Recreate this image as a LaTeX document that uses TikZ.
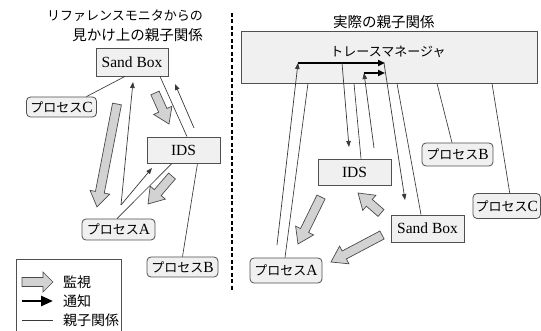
\documentclass[tikz,border=0pt]{standalone}
\usepackage{fontspec}
\setmainfont{Liberation Serif}
\newfontfamily\jpfont{Noto Sans CJK JP}
\usetikzlibrary{arrows.meta}
\definecolor{boxfill}{HTML}{F0F0F0}
\definecolor{boxline}{HTML}{505050}
\definecolor{arrfill}{HTML}{D2D2D2}
\definecolor{arrline}{HTML}{4A4A4A}
\definecolor{relcol}{HTML}{383838}
\newcommand\jpk[2][13]{{\jpfont\fontsize{#1}{#1}\selectfont #2}}
\newcommand\monarrow[3][15]{%
  \pgfpointdiff{\pgfpointanchor{#2}{center}}{\pgfpointanchor{#3}{center}}%
  \pgfgetlastxy\mdx\mdy
  \pgfmathsetmacro\mang{atan2(\mdy,\mdx)}%
  \pgfmathsetmacro\mlen{veclen(\mdx,\mdy)}%
  \pgfmathsetmacro\mneck{\mlen-#1}%
  \draw[monitor,shift={(#2)},rotate=\mang] (0pt,4.5pt) -- (\mneck pt,4.5pt) -- (\mneck pt,10pt) -- (\mlen pt,0pt) -- (\mneck pt,-10pt) -- (\mneck pt,-4.5pt) -- (0pt,-4.5pt) -- cycle;}
\tikzset{
 box/.style={draw=boxline, fill=boxfill, line width=0.8pt, inner sep=0pt, font=\fontsize{15.5}{17}\selectfont},
 proc/.style={box, rounded corners=4pt},
 rel/.style={draw=relcol, line width=0.65pt},
 note/.style={draw=relcol, line width=0.7pt, -{Triangle[length=6pt,width=4.5pt]}},
 notify/.style={draw=black, line width=1.8pt, -{Triangle[length=7pt,width=6pt]}},
 monitor/.style={draw=arrline, fill=arrfill, line width=0.7pt, line join=miter},
 txt/.style={inner sep=0pt},
 sepline/.style={draw=black, line width=1.6pt, dash pattern=on 4pt off 2.5pt},
 legendbox/.style={draw=boxline, line width=0.8pt},
}
\begin{document}
\begin{tikzpicture}[x=1pt,y=-1pt]
\useasboundingbox (0,0) rectangle (541,331);
\clip (0,0) rectangle (541,331);
\fill[white] (0,0) rectangle (541,331);

% ---------- left side ----------
\node[txt, anchor=east] (t1) at (203,16) {\jpk{リファレンスモニタからの}};
\node[txt, anchor=east] (t2) at (203,35) {\jpk[14.5]{見かけ上の親子関係}};

\node[box, minimum width=72pt, minimum height=28pt] (sbL) at (132,62) {Sand Box};
\node[proc, minimum width=70pt, minimum height=20pt] (pcL) at (61.5,107) {\jpk{プロセス}C};
\node[box, minimum width=73pt, minimum height=26pt] (idsL) at (183.5,150) {IDS};
\node[proc, minimum width=73pt, minimum height=21pt] (paL) at (118.5,229.5) {\jpk{プロセス}A};
\node[proc, minimum width=71pt, minimum height=20pt] (pbL) at (182.5,267) {\jpk{プロセス}B};

\draw[rel] ([xshift=-7pt]sbL.south) -- ([xshift=25pt]pcL.north);
\draw[rel] ([xshift=28pt]sbL.south) -- ([xshift=3.5pt]idsL.north);
\draw[rel] ([xshift=-11.5pt]idsL.south) -- ([xshift=-1.5pt]paL.north);
\draw[rel] ([xshift=14pt]idsL.south) -- (pbL.north);

\coordinate (vL) at (121,205);
\coordinate (nL1) at (133,82);
\coordinate (nL2) at (152,168);
\coordinate (nL3s) at (194,128);
\coordinate (nL3e) at (175,84);
\draw[note] (vL) -- (nL1);
\draw[note] (vL) -- (nL2);
\draw[note] (nL3s) -- (nL3e);

\coordinate (mL1a) at (117,104); \coordinate (mL1b) at (97,207);
\coordinate (mL2a) at (155,93);  \coordinate (mL2b) at (169,124);
\coordinate (mL3a) at (172,176); \coordinate (mL3b) at (148,204);
\monarrow{mL1a}{mL1b}
\monarrow{mL2a}{mL2b}
\monarrow{mL3a}{mL3b}

% ---------- separator ----------
\coordinate (d1) at (232,13); \coordinate (d2) at (232,290);
\draw[sepline] (d1) -- (d2);

% ---------- legend ----------
\draw[legendbox] (16,259) rectangle (121,345);
\coordinate (lg1a) at (22,282); \coordinate (lg1b) at (53,282);
\monarrow[10]{lg1a}{lg1b}
\coordinate (lg2a) at (22,301); \coordinate (lg2b) at (53,301);
\draw[notify, line width=2.6pt, -{Triangle[length=12pt,width=10pt]}] (lg2a) -- (lg2b);
\coordinate (lg3a) at (22,320); \coordinate (lg3b) at (53,320);
\draw[rel] (lg3a) -- (lg3b);
\node[txt, anchor=west] (lt1) at (63,282) {\jpk[14]{監視}};
\node[txt, anchor=west] (lt2) at (63,301) {\jpk[14]{通知}};
\node[txt, anchor=west] (lt3) at (63,320) {\jpk[14]{親子関係}};

% ---------- right side ----------
\node[txt, anchor=west] (t3) at (333,22) {\jpk[14.5]{実際の親子関係}};
\node[box, minimum width=296pt, minimum height=52pt] (tm) at (389,57) {};
\node[txt] (tmlab) at (388,52) {\jpk{トレースマネージャ}};
\node[box, minimum width=73pt, minimum height=26pt] (idsR) at (354.5,172) {IDS};
\node[proc, minimum width=71pt, minimum height=23pt] (pbR) at (457.5,154.5) {\jpk{プロセス}B};
\node[proc, minimum width=67.5pt, minimum height=25pt] (pcR) at (506.75,206) {\jpk{プロセス}C};
\node[box, minimum width=73pt, minimum height=27pt] (sbR) at (427.5,228.5) {Sand Box};
\node[proc, minimum width=72pt, minimum height=25pt] (paR) at (286,270.5) {\jpk{プロセス}A};

\draw[rel] ([xshift=-81pt]tm.south) -- ([xshift=-1pt]paR.north);
\draw[rel] ([xshift=-35pt]tm.south) -- ([xshift=6.5pt]idsR.north);
\draw[rel] ([xshift=8pt]tm.south) -- ([xshift=-6.5pt]sbR.north);
\draw[rel] ([xshift=48pt]tm.south) -- ([xshift=-5.5pt]pbR.north);
\draw[rel] ([xshift=103pt]tm.south) -- ([xshift=3pt]pcR.north);

\coordinate (rA0) at (277,245); \coordinate (rA1) at (298,63); \coordinate (rA2) at (385,63);
\draw[note] (rA0) -- (rA1);
\draw[notify] (rA1) -- (rA2);
\coordinate (rB0) at (342,63); \coordinate (rB1) at (349,147);
\draw[note] (rB0) -- (rB1);
\coordinate (rC0) at (374,148); \coordinate (rC1) at (364,73); \coordinate (rC2) at (385,73);
\draw[note] (rC0) -- (rC1);
\draw[notify] (rC1) -- (rC2);
\coordinate (rD0) at (384,63); \coordinate (rD1) at (405,200);
\draw[note] (rD0) -- (rD1);

\coordinate (mR1a) at (321,197); \coordinate (mR1b) at (298,244);
\coordinate (mR2a) at (381,213); \coordinate (mR2b) at (358,193);
\coordinate (mR3a) at (382,235); \coordinate (mR3b) at (331,262);
\monarrow{mR1a}{mR1b}
\monarrow{mR2a}{mR2b}
\monarrow{mR3a}{mR3b}
\end{tikzpicture}
\end{document}
